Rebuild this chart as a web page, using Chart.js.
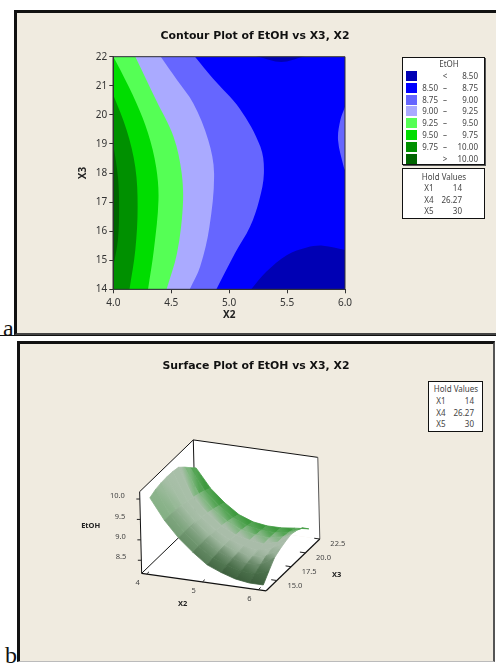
<!DOCTYPE html>
<html><head><meta charset="utf-8">
<script src="https://cdn.jsdelivr.net/npm/chart.js@4"></script>
<style>
html,body{margin:0;padding:0;background:#fff;width:496px;height:663px;overflow:hidden}
body{position:relative;font-family:"Noto Sans",sans-serif;color:#333}
.abs{position:absolute;white-space:nowrap}
.panel{position:absolute;background:#f0ebe0;box-sizing:border-box}
canvas{position:absolute}
.box{position:absolute;background:#fff;border:1px solid #111;box-sizing:border-box}
.t{position:absolute;white-space:nowrap;font-size:8px;line-height:10px;color:#444}
.title{position:absolute;white-space:nowrap;font-family:"DejaVu Sans",sans-serif;font-weight:700;font-size:10.9px;line-height:14px;color:#111;transform:translateX(-50%)}
.tag{position:absolute;font-family:"Liberation Serif",serif;font-size:24px;line-height:24px;color:#111}
</style></head><body>
<div class="tag" style="left:3px;top:316px">a</div>
<div class="tag" style="left:5px;top:643px">b</div>
<div class="panel" style="left:14px;top:10px;width:482px;height:325px;border-top:3px solid #111;border-left:3px solid #111;border-bottom:2px solid #444;"></div>
<div style="position:absolute;left:0;top:335px;width:496px;height:1px;background:#111"></div>
<div class="panel" style="left:17px;top:341px;width:478px;height:321px;border-top:3px solid #111;border-left:3px solid #111;border-right:2px solid #555;border-bottom:1px solid #bbb"></div>
<canvas id="contour" width="496" height="335" style="left:0;top:0"></canvas>
<canvas id="surface" width="496" height="328" style="left:0;top:335px"></canvas>
<div class="title" style="left:255px;top:29px">Contour Plot of EtOH vs X3, X2</div>
<div class="title" style="left:256px;top:359px">Surface Plot of EtOH vs X3, X2</div>
<div id="overlay"></div>
<script>
/* ---------- panel a: contour boundaries as [X2, X3] ---------- */
const x2Range = [4, 6];
const x3Range = [14, 22];
const level875 = [[4.89,14],[5.05,15.24],[5.18,16.15],[5.26,17.07],[5.30,17.99],[5.27,18.9],[5.09,20.22],[4.86,21.25],[4.705,22]];
const level900 = [[4.66,14],[4.75,14.78],[4.83,16.15],[4.87,17.99],[4.82,19.13],[4.69,20.4],[4.55,21.2],[4.41,22]];
const level925 = [[4.46,14],[4.55,15.24],[4.60,16.84],[4.59,18],[4.52,19.25],[4.37,20.5],[4.19,22]];
const level950 = [[4.30,14],[4.35,15.35],[4.39,17.07],[4.37,18.2],[4.30,19.37],[4.20,20.4],[4.06,21.55],[4,22]];
const level975 = [[4.14,14],[4.19,15.35],[4.21,16.84],[4.19,18.2],[4.115,19.48],[4,20.68]];
const level1000 = [[4,14.78],[4.04,15.7],[4.05,16.84],[4.04,17.87],[4,19]];
const low850Bottom = [[5.19,14],[5.32,14.6],[5.5,15.18],[5.67,15.44],[5.81,15.5],[6,15.35]];
const low850Top = [[5.25,22],[5.45,21.82],[5.64,22]];
const high875Right = [[6,20.28],[5.96,19.82],[5.94,19.13],[5.99,18.2],[6,18.1]];
const plotFrame = [[4,14],[6,14],[6,22],[4,22],[4,14]];
const contourColors = ['#0000b4','#0000ff','#6666ff','#aaaaff','#55ff55','#00dd00','#009000','#006400'];
const legendLow = ['', '8.50','8.75','9.00','9.25','9.50','9.75',''];
const legendMid = ['<','–','–','–','–','–','–','>'];
const legendHigh = ['8.50','8.75','9.00','9.25','9.50','9.75','10.00','10.00'];
const holdNames = ['X1','X4','X5'];
const holdValues = ['14','26.27','30'];

/* ---------- panel b: fitted surface, read as EtOH at X2 (cols) and X3 (rows) ---------- */
const gridX2 = [4,4.25,4.5,4.75,5,5.25,5.5,5.75,6];
const gridX3 = [14,15,16,17,18,19,20,21,22];
const etohRow14 = [9.93,9.43,9.04,8.74,8.48,8.34,8.23,8.18,8.18];
const etohRow15 = [10.00,9.425,9.05,8.755,8.51,8.385,8.285,8.27,8.38];
const etohRow16 = [10.03,9.415,9.05,8.76,8.53,8.415,8.33,8.36,8.57];
const etohRow17 = [10.04,9.395,9.03,8.755,8.545,8.435,8.37,8.44,8.65];
const etohRow18 = [10.03,9.36,9.01,8.74,8.545,8.45,8.395,8.48,8.71];
const etohRow19 = [10.00,9.315,8.975,8.715,8.535,8.455,8.41,8.50,8.75];
const etohRow20 = [9.87,9.265,8.935,8.68,8.52,8.445,8.42,8.50,8.71];
const etohRow21 = [9.72,9.205,8.885,8.635,8.49,8.425,8.415,8.475,8.63];
const etohRow22 = [9.58,9.13,8.82,8.58,8.45,8.40,8.40,8.44,8.47];
const etohRows = [etohRow14,etohRow15,etohRow16,etohRow17,etohRow18,etohRow19,etohRow20,etohRow21,etohRow22];
const x2Ticks = [4,5,6];
const x3Ticks = [15,17.5,20,22.5];
const zTicks = [8.5,9,9.5,10];
const shadeLeft  = ['#8db98d','#92bb92','#9dbe9d','#a6bfa6','#a8bfa8','#a8bfa8','#7cb67c','#55a555','#3f9a3f'];
const shadeRight = ['#3d5f3d','#4a6f4a','#6a8a6a','#98b098','#a9bca9','#a9bca9','#85b685','#55a555','#3e9a3e'];

/* ---------- drawing ---------- */
const FONT = '"Noto Sans", sans-serif';
const overlay = document.getElementById('overlay');
function el(cls, style, txt){ const d=document.createElement('div'); d.className=cls; d.style.cssText=style; if(txt!==undefined)d.textContent=txt; overlay.appendChild(d); return d; }
const pts = a => a.map(p => ({x:p[0], y:p[1]}));

function poly(points, color, border, tension){
  return {data:points, showLine:true, fill:'shape', backgroundColor:color, borderColor:color,
          borderWidth:border||0, pointRadius:0, tension:tension||0, capBezierPoints:false};
}
function line(points, color, width){
  return {data:points, showLine:true, fill:false, borderColor:color, borderWidth:width||1, pointRadius:0, tension:0, clip:false};
}
/* region left of (or beside) a boundary: the ends run on past the frame so the curve stays smooth up to it */
function region(boundary, cornerX, color){
  const n=boundary.length, a=boundary[0], b=boundary[1], y=boundary[n-1], z=boundary[n-2];
  const s=[a[0]-(b[0]-a[0]),a[1]-(b[1]-a[1])], e=[y[0]+(y[0]-z[0]),y[1]+(y[1]-z[1])];
  const p=[s,...boundary,e];
  if(cornerX!==null){p.push([cornerX,e[1]],[cornerX,s[1]]);}
  return poly(pts(p),color,0,0.35);
}

/* contour chart: painted back to front */
const contourPaint = [
  poly(pts(plotFrame), contourColors[1]),
  region(low850Bottom, 6.5, contourColors[0]),
  region(low850Top, null, contourColors[0]),
  region(high875Right, null, contourColors[2]),
  region(level875, 3.5, contourColors[2]),
  region(level900, 3.5, contourColors[3]),
  region(level925, 3.5, contourColors[4]),
  region(level950, 3.5, contourColors[5]),
  region(level975, 3.5, contourColors[6]),
  region(level1000, 3.5, contourColors[7]),
  line(pts(plotFrame), '#333', 1)
];
new Chart(document.getElementById('contour'), {
  type:'scatter',
  data:{datasets:contourPaint.reverse()},
  options:{
    responsive:false, animation:false, events:[],
    layout:{padding:{left:72,right:151,top:56.7,bottom:13.7}},
    plugins:{legend:{display:false},tooltip:{enabled:false},title:{display:false}},
    scales:{
      x:{type:'linear',min:x2Range[0],max:x2Range[1],
         afterFit:s=>{s.height=32},
         border:{display:true,color:'#333'},
         grid:{drawOnChartArea:false,drawTicks:true,tickLength:4,color:'#333'},
         ticks:{stepSize:0.5,maxRotation:0,autoSkip:false,padding:3.5,color:'#333',font:{family:FONT,size:10},callback:v=>v.toFixed(1)},
         title:{display:true,text:'X2',color:'#222',padding:{top:0,bottom:0},font:{family:FONT,size:10,weight:'700'}}},
      y:{type:'linear',min:x3Range[0],max:x3Range[1],
         afterFit:s=>{s.width=41.3},
         border:{display:true,color:'#333'},
         grid:{drawOnChartArea:false,drawTicks:true,tickLength:4,color:'#333'},
         ticks:{stepSize:1,autoSkip:false,padding:2,color:'#333',font:{family:FONT,size:10}},
         title:{display:true,text:'X3',color:'#222',padding:{top:5,bottom:0},font:{family:FONT,size:10,weight:'700'}}}
    }
  }
});

/* legend boxes */
el('box','left:402px;top:57px;width:83px;height:108px;box-shadow:1px 1px 0 #555');
el('t','left:449px;top:59px;transform:translateX(-50%)','EtOH');
const rowY=[76,88,100,111.3,123.3,135,147,159];
contourColors.forEach((c,i)=>{
  el('abs',`left:406px;top:${rowY[i]-5}px;width:10.5px;height:10px;background:${c}`);
  el('t',`right:${496-438}px;top:${rowY[i]-5}px`,legendLow[i]);
  el('t',`left:445px;top:${rowY[i]-5}px;transform:translateX(-50%)`,legendMid[i]);
  el('t',`right:${496-478}px;top:${rowY[i]-5}px`,legendHigh[i]);
});
function hold(left,top,w,h,cx,nameX,valR,ys){
  el('box',`left:${left}px;top:${top}px;width:${w}px;height:${h}px`);
  el('t',`left:${cx}px;top:${ys[0]-5}px;transform:translateX(-50%)`,'Hold Values');
  holdNames.forEach((n,i)=>{
    el('t',`left:${nameX}px;top:${ys[i+1]-5}px;transform:translateX(-50%)`,n);
    el('t',`right:${496-valR}px;top:${ys[i+1]-5}px`,holdValues[i]);
  });
}
hold(402,168,83,51,444,429,462,[177,188,200,211]);
hold(428,381,55,51,456,441,474,[389,401,413,424]);

/* surface chart: 3D projection onto hidden page-pixel scales */
const BOX = {x2:[3.91,6.14], x3:[13.14,22.5], z:[8.18,10.18]};
function project(x2,x3,z){
  const a=x2-BOX.x2[0], b=x3-BOX.x3[0], c=z-BOX.z[0];
  return {x:141.67+55.83*a+5.73*b-1.0*c, y:573.33+7.83*a-5.53*b-40.83*c};
}
function hex(c){return [1,3,5].map(i=>parseInt(c.substr(i,2),16));}
function mix(a,b,t){const A=hex(a),B=hex(b);return `rgb(${A.map((v,i)=>Math.round(v+(B[i]-v)*t)).join(',')})`;}
const surfaceCanvas=document.getElementById('surface');
const sctx=surfaceCanvas.getContext('2d');
const [xa,xb]=BOX.x2,[ya,yb]=BOX.x3,[za,zb]=BOX.z;
const surfacePaint=[
  poly([project(xa,ya,za),project(xa,yb,za),project(xa,yb,zb),project(xa,ya,zb)],'#fff'),
  poly([project(xa,yb,za),project(xb,yb,za),project(xb,yb,zb),project(xa,yb,zb)],'#fff'),
  poly([project(xa,ya,za),project(xb,ya,za),project(xb,yb,za),project(xa,yb,za)],'#fff'),
  line([project(xa,ya,za),project(xa,yb,za)],'#111',1),
  line([project(xa,yb,za),project(xa,yb,zb)],'#111',1),
];
for(let r=gridX3.length-2;r>=0;r--){
  for(let c=0;c<gridX2.length-1;c++){
    const q=[project(gridX2[c],gridX3[r],etohRows[r][c]),
             project(gridX2[c+1],gridX3[r],etohRows[r][c+1]),
             project(gridX2[c+1],gridX3[r+1],etohRows[r+1][c+1]),
             project(gridX2[c],gridX3[r+1],etohRows[r+1][c])];
    q.push(q[0]);
    const t=Math.min(1,(c+0.5)/5);
    const fx=(q[0].x+q[1].x)/2, fy=(q[0].y+q[1].y)/2-335;
    const bx=(q[2].x+q[3].x)/2, by=(q[2].y+q[3].y)/2-335;
    const g=sctx.createLinearGradient(fx,fy,bx,by);
    g.addColorStop(0,mix(shadeLeft[r],shadeRight[r],t));
    g.addColorStop(1,mix(shadeLeft[r+1],shadeRight[r+1],t));
    surfacePaint.push(poly(q,g,0.8));
  }
}
surfacePaint.push(
  line([project(xa,ya,za),project(xa,ya,zb)],'#111',1),
  line([project(xa,ya,zb),project(xa,yb,zb)],'#111',1),
  line([project(xa,yb,zb),project(xb,yb,zb)],'#111',1),
  line([project(xb,yb,zb),project(xb,yb,za)],'#555',1),
  line([project(xa,ya,za),project(xb,ya,za)],'#111',1.2),
  line([project(xb,ya,za),project(xb,yb,za)],'#111',1.2)
);
x2Ticks.forEach(v=>surfacePaint.push(line([project(v,ya,za),project(v,ya+0.4,za)],'#222',1)));
x3Ticks.forEach(v=>surfacePaint.push(line([project(xb,v,za),project(xb-0.1,v,za)],'#222',1)));
zTicks.forEach(v=>{const p=project(xa,ya,v);surfacePaint.push(line([p,{x:p.x-3.5,y:p.y}],'#222',1));});

const surfaceText={id:'surfaceText',afterDatasetsDraw(ch){
  const {ctx,scales:{x,y}}=ch;
  const put=(txt,px,py,align,bold)=>{
    ctx.font=(bold?'700 ':'')+'7.5px '+FONT; ctx.fillStyle=bold?'#222':'#444';
    ctx.textAlign=align; ctx.textBaseline='middle';
    ctx.fillText(txt,x.getPixelForValue(px),y.getPixelForValue(py));
  };
  ctx.save();
  x2Ticks.forEach(v=>{const p=project(v,ya,za);put(String(v),p.x-9,p.y+9,'center');});
  x3Ticks.forEach(v=>{const p=project(xb,v,za);put(v.toFixed(1),p.x+18,p.y+5,'center');});
  zTicks.forEach(v=>{const p=project(xa,ya,v);put(v.toFixed(1),p.x-15,p.y-3,'right');});
  put('X2',182.7,604.3,'center',true);
  put('X3',336.7,575.3,'center',true);
  put('EtOH',90.7,526.3,'center',true);
  ctx.restore();
}};
new Chart(surfaceCanvas,{
  type:'scatter',
  data:{datasets:surfacePaint.reverse()},
  plugins:[surfaceText],
  options:{
    responsive:false,animation:false,events:[],
    plugins:{legend:{display:false},tooltip:{enabled:false}},
    scales:{
      x:{type:'linear',display:false,min:0,max:496},
      y:{type:'linear',display:false,min:335,max:663,reverse:true}
    }
  }
});
</script>
</body></html>
